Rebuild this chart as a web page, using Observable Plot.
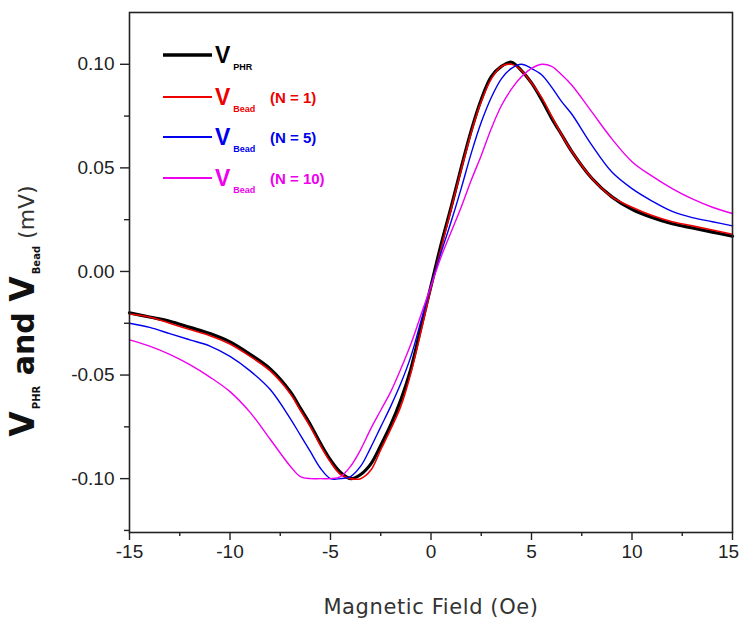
<!DOCTYPE html>
<html>
<head>
<meta charset="utf-8">
<script src="https://cdn.jsdelivr.net/npm/d3@7"></script>
<script src="https://cdn.jsdelivr.net/npm/@observablehq/plot@0.6"></script>
<style>
  html, body { margin: 0; padding: 0; background: #fff; }
  #chart { width: 740px; height: 620px; }
</style>
</head>
<body>
<div id="chart"></div>
<script>
// ---- data ----
const field = [-15,-14,-13,-12,-11,-10,-9,-8,-7,-6.5,-6,-5.5,-5,-4.5,-4,-3.5,-3,-2.5,-2,-1.5,-1,-0.5,0,0.5,1,1.5,2,2.5,3,3.5,4,4.5,5,5.5,6,6.5,7,8,9,10,11,12,13,14,15];

const vPHR = [-0.020,-0.022,-0.024,-0.027,-0.030,-0.034,-0.040,-0.047,-0.058,-0.066,-0.074,-0.083,-0.091,-0.097,-0.100,-0.098,-0.093,-0.084,-0.074,-0.062,-0.047,-0.027,-0.007,0.013,0.031,0.050,0.068,0.083,0.094,0.099,0.101,0.097,0.091,0.083,0.074,0.066,0.058,0.045,0.036,0.030,0.026,0.023,0.021,0.019,0.017];

const vBeadN1 = [-0.0205,-0.022,-0.025,-0.028,-0.031,-0.035,-0.041,-0.048,-0.059,-0.067,-0.075,-0.084,-0.092,-0.098,-0.100,-0.100,-0.096,-0.086,-0.076,-0.065,-0.049,-0.029,-0.008,0.011,0.030,0.049,0.067,0.082,0.093,0.099,0.100,0.097,0.091,0.084,0.075,0.066,0.058,0.045,0.036,0.031,0.027,0.024,0.022,0.020,0.018];

const vBeadN5 = [-0.025,-0.027,-0.030,-0.033,-0.036,-0.041,-0.048,-0.057,-0.071,-0.079,-0.087,-0.095,-0.100,-0.100,-0.099,-0.094,-0.085,-0.075,-0.065,-0.054,-0.041,-0.024,-0.007,0.009,0.024,0.040,0.057,0.072,0.084,0.093,0.098,0.100,0.098,0.095,0.089,0.082,0.076,0.061,0.048,0.040,0.034,0.029,0.026,0.024,0.022];

const vBeadN10 = [-0.033,-0.036,-0.040,-0.045,-0.051,-0.058,-0.068,-0.081,-0.094,-0.099,-0.100,-0.100,-0.100,-0.099,-0.094,-0.086,-0.076,-0.067,-0.058,-0.047,-0.035,-0.021,-0.007,0.007,0.019,0.031,0.044,0.056,0.069,0.080,0.088,0.094,0.098,0.100,0.099,0.095,0.090,0.077,0.064,0.053,0.046,0.040,0.035,0.031,0.028];

const seriesKeys = ["PHR", "N1", "N5", "N10"];
const seriesSub = ["PHR", "Bead", "Bead", "Bead"];
const seriesSuffix = ["", "(N = 1)", "(N = 5)", "(N = 10)"];
const seriesColors = ["#000000", "#ee0000", "#0000ee", "#ee00ee"];
const seriesWidths = [3.2, 1.6, 1.4, 1.4];

const xTicks = [-15, -10, -5, 0, 5, 10, 15];
const xMinorTicks = [-12.5, -7.5, -2.5, 2.5, 7.5, 12.5];
const yTicks = [-0.10, -0.05, 0.00, 0.05, 0.10];
const yMinorTicks = [-0.125, -0.075, -0.025, 0.025, 0.075, 0.125];

const xLabel = "Magnetic Field (Oe)";

// ---- build table ----
const seriesValues = [vPHR, vBeadN1, vBeadN5, vBeadN10];
const rows = [];
seriesKeys.forEach((k, i) => {
  field.forEach((f, j) => rows.push({series: k, field: f, v: seriesValues[i][j]}));
});

const tickFont = "'Liberation Sans', Arial, sans-serif";

const lineMarks = seriesKeys.map((k, i) =>
  Plot.line(rows.filter(r => r.series === k), {
    x: "field", y: "v", stroke: seriesColors[i], strokeWidth: seriesWidths[i], curve: "catmull-rom"
  })
);

const chart = Plot.plot({
  width: 740,
  height: 620,
  marginLeft: 129,
  marginRight: 8,
  marginTop: 12,
  marginBottom: 88,
  style: {background: "#fff", color: "#222", fontFamily: tickFont},
  x: {domain: [-15, 15]},
  y: {domain: [-0.126, 0.125]},
  marks: [
    ...lineMarks,
    Plot.frame({stroke: "#222", strokeWidth: 1.6}),
    Plot.axisX({ticks: xTicks, tickSize: 8, tickPadding: 4, tickFormat: d => String(d), fontSize: 19, label: null, strokeWidth: 1.4}),
    Plot.axisX({ticks: xMinorTicks, tickSize: 4, tickFormat: () => "", label: null, strokeWidth: 1.4}),
    Plot.axisY({ticks: yTicks, tickSize: 9, tickPadding: 6, tickFormat: d => d.toFixed(2), fontSize: 19, label: null, strokeWidth: 1.4}),
    Plot.axisY({ticks: yMinorTicks.filter(t => t > -0.126 && t < 0.125), tickSize: 5, tickFormat: () => "", label: null, strokeWidth: 1.4})
  ]
});

document.getElementById("chart").appendChild(chart);

const svg = d3.select(chart);

// keep the right-most x tick label inside the picture
svg.selectAll("text").filter(function() { return this.textContent === "15"; })
  .attr("dx", -4);

// x axis title
svg.append("text")
  .attr("x", 431).attr("y", 614)
  .attr("text-anchor", "middle")
  .attr("font-family", "'DejaVu Sans', sans-serif")
  .attr("font-size", 21)
  .attr("letter-spacing", 0.6)
  .attr("fill", "#333")
  .text(xLabel);

// y axis title (rotated, with subscripts)
const yt = svg.append("text")
  .attr("transform", "translate(34,311) rotate(-90)")
  .attr("text-anchor", "middle")
  .attr("font-family", "'DejaVu Sans', sans-serif")
  .attr("fill", "#111");
yt.append("tspan").attr("font-size", 33).attr("font-weight", "bold").text("V");
yt.append("tspan").attr("font-size", 10).attr("font-weight", "bold").attr("dy", 6).attr("dx", 2).text("PHR");
yt.append("tspan").attr("font-size", 30).attr("font-weight", "bold").attr("dy", -6).text(" and ");
yt.append("tspan").attr("font-size", 33).attr("font-weight", "bold").text("V");
yt.append("tspan").attr("font-size", 10).attr("font-weight", "bold").attr("dy", 6).attr("dx", 2).text("Bead");
yt.append("tspan").attr("font-size", 22).attr("font-weight", "normal").attr("fill", "#333").attr("dy", -6).text(" (mV)");

// legend
const legendY = [55, 97, 137, 178];
const lg = svg.append("g").attr("text-anchor", "start");
seriesKeys.forEach((k, i) => {
  const y = legendY[i];
  lg.append("line")
    .attr("x1", 163).attr("x2", 212).attr("y1", y).attr("y2", y)
    .attr("stroke", seriesColors[i]).attr("stroke-width", i === 0 ? 3.5 : 1.8);
  const t = lg.append("text")
    .attr("x", 215).attr("y", y + 8)
    .attr("text-anchor", "start")
    .attr("font-family", "'Liberation Sans', sans-serif")
    .attr("font-weight", "bold")
    .attr("fill", seriesColors[i]);
  t.append("tspan").attr("font-size", 23).text("V");
  t.append("tspan").attr("font-size", 9).attr("dx", 3).attr("dy", 7).text(seriesSub[i]);
  if (seriesSuffix[i]) {
    lg.append("text")
      .attr("x", 270).attr("y", y + 6)
      .attr("text-anchor", "start")
      .attr("font-family", "'Liberation Sans', sans-serif")
      .attr("font-weight", "bold")
      .attr("font-size", 15)
      .attr("fill", seriesColors[i])
      .text(seriesSuffix[i]);
  }
});
</script>
</body>
</html>
